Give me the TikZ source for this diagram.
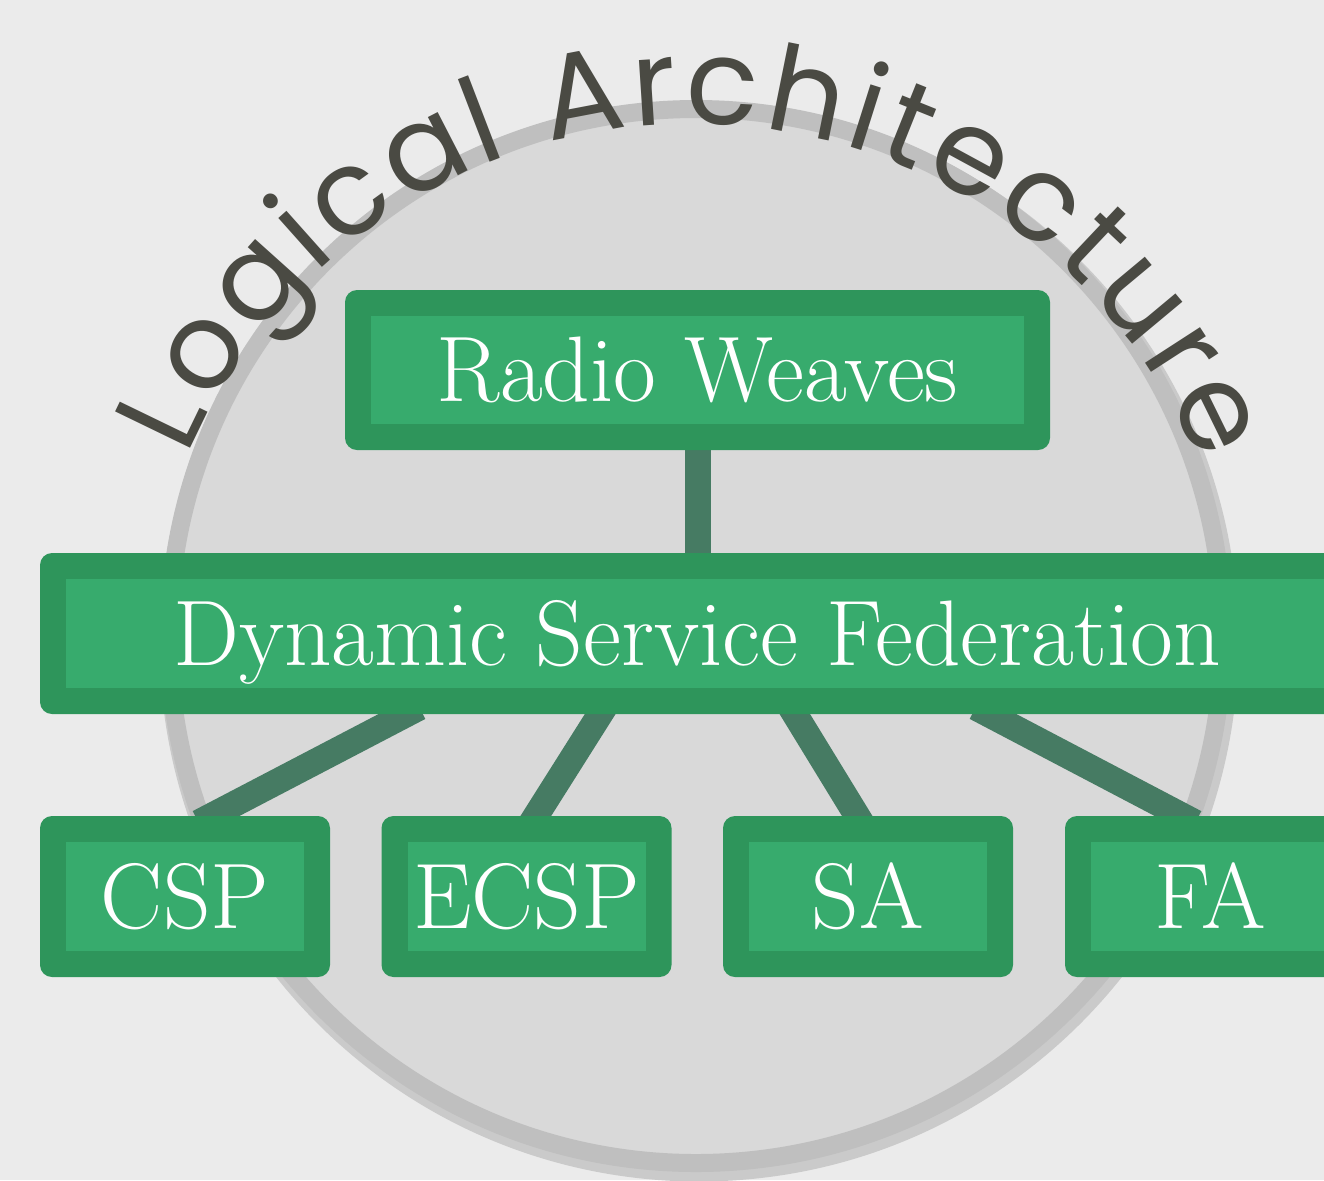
\documentclass[tikz,border=0pt]{standalone}
\usepackage{fontspec}
\newfontfamily\titlefont{Poppins}
\newcommand\ttlfmt{\titlefont\fontsize{68}{72}\selectfont}
\usetikzlibrary{decorations.text,calc}
\definecolor{bgcol}{HTML}{EBEBEB}
\definecolor{circfill}{HTML}{D9D9D9}
\definecolor{circband}{HTML}{BFBFBF}
\definecolor{circhalo}{HTML}{CACACA}
\definecolor{darkgreen}{HTML}{2E955B}
\definecolor{lightgreen}{HTML}{37AB6D}
\definecolor{linkcol}{HTML}{467B63}
\definecolor{titlecol}{HTML}{4A4A43}
\pgfdeclarelayer{back}
\pgfdeclarelayer{mid}
\pgfsetlayers{back,mid,main}
\tikzset{
  box/.style={fill=darkgreen, rounded corners=0.24cm, inner sep=0pt, text=white,
    font=\fontsize{53}{58}\selectfont, text height=36.2pt, text depth=0pt,
    path picture={\fill[lightgreen, sharp corners] ([shift={(0.52cm,-0.52cm)}]path picture bounding box.north west)
      rectangle ([shift={(-0.52cm,0.52cm)}]path picture bounding box.south east);}},
  smallbox/.style={box, minimum width=5.8cm, minimum height=3.22cm},
  link/.style={draw=linkcol, line width=0.52cm, shorten <=-0.3cm, shorten >=-0.3cm},
}
\begin{document}
\begin{tikzpicture}
\useasboundingbox (0,0) rectangle (26.48,-23.6);
\begin{pgfonlayer}{back}
  \fill[bgcol] (0,0) rectangle (26.48,-23.6);
  \fill[circfill] (13.92,-12.72) circle (10.58);
  \draw[circhalo, line width=0.26cm] (13.98,-12.84) circle (10.66);
  \draw[circband, line width=0.36cm] (13.92,-12.72) circle (10.54);
\end{pgfonlayer}

\node[box, minimum width=14.1cm, minimum height=3.2cm] (rw) at (13.95,-7.4) {Radio Weaves};
\node[box, minimum width=26.28cm, minimum height=3.22cm] (dsf) at (13.94,-12.67) {Dynamic Service Federation};
\node[smallbox] (csp) at (3.7,-17.93) {CSP};
\node[smallbox] (ecsp) at (10.53,-17.93) {ECSP};
\node[smallbox] (sa) at (17.36,-17.93) {SA};
\node[smallbox] (fa) at (24.2,-17.93) {FA};

\begin{pgfonlayer}{mid}
  \draw[link] (rw.south) -- (rw.south |- dsf.north);
  \draw[link] ([xshift=-5.82cm]dsf.south) -- ([xshift=0.54cm]csp.north);
  \draw[link] ([xshift=-1.94cm]dsf.south) -- ([xshift=0.19cm]ecsp.north);
  \draw[link] ([xshift=1.96cm]dsf.south) -- ([xshift=-0.22cm]sa.north);
  \draw[link] ([xshift=5.84cm]dsf.south) -- ([xshift=-0.56cm]fa.north);
\end{pgfonlayer}

\path[decorate, decoration={text along path, text={|\ttlfmt|Logical Architecture},
    text align=fit to path, text color=titlecol}]
  ($(13.84,-13.46)+(156.8:10.98)$) arc[start angle=156.8, end angle=22.3, radius=10.98];
\end{tikzpicture}
\end{document}
